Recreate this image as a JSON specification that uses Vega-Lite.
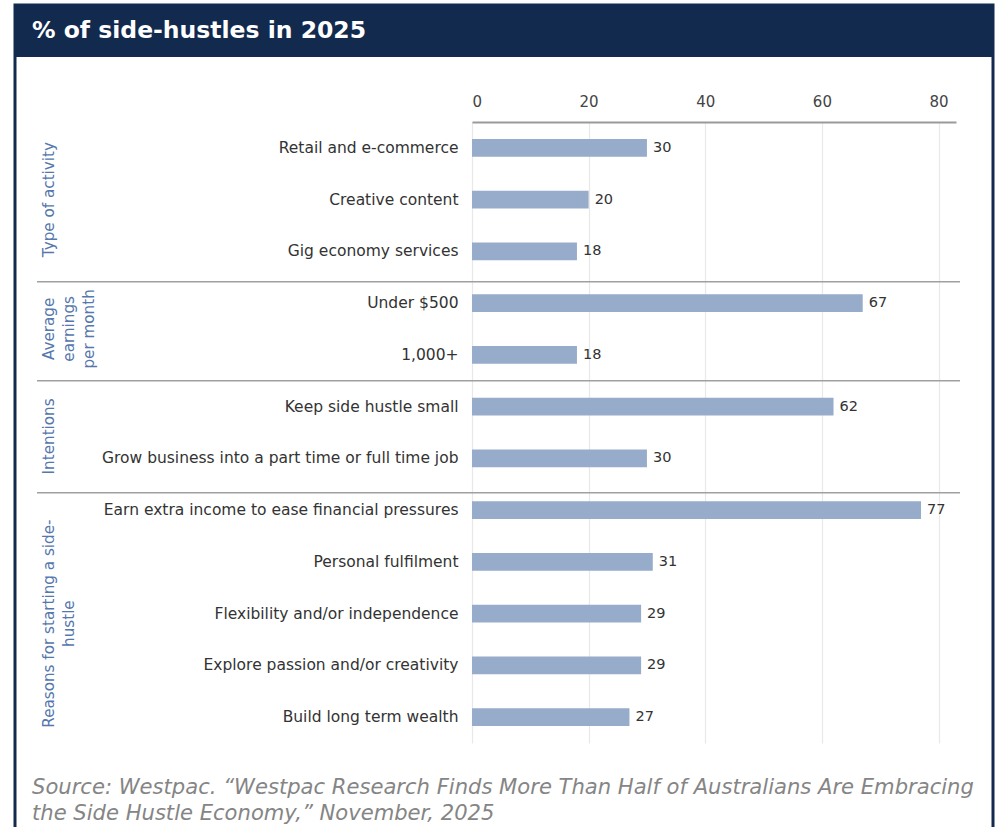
{
  "$schema": "https://vega.github.io/schema/vega-lite/v6.json",
  "autosize": {"type": "none"},
  "padding": {"left": 472, "top": 122, "right": 44, "bottom": 84},
  "width": 484,
  "height": 621,
  "background": "white",
  "config": {
    "view": {"stroke": null},
    "font": "DejaVu Sans",
    "text": {"font": "DejaVu Sans"}
  },
  "datasets": {
    "bars": [
      {"group": "Type of activity", "label": "Retail and e-commerce", "value": 30},
      {"group": "Type of activity", "label": "Creative content", "value": 20},
      {"group": "Type of activity", "label": "Gig economy services", "value": 18},
      {"group": "Average earnings per month", "label": "Under $500", "value": 67},
      {"group": "Average earnings per month", "label": "1,000+", "value": 18},
      {"group": "Intentions", "label": "Keep side hustle small", "value": 62},
      {"group": "Intentions", "label": "Grow business into a part time or full time job", "value": 30},
      {"group": "Reasons for starting a side-hustle", "label": "Earn extra income to ease financial pressures", "value": 77},
      {"group": "Reasons for starting a side-hustle", "label": "Personal fulfilment", "value": 31},
      {"group": "Reasons for starting a side-hustle", "label": "Flexibility and/or independence", "value": 29},
      {"group": "Reasons for starting a side-hustle", "label": "Explore passion and/or creativity", "value": 29},
      {"group": "Reasons for starting a side-hustle", "label": "Build long term wealth", "value": 27}
    ],
    "groups": [
      {"key": "type", "name": ["Type of activity"], "label": "Creative content"},
      {"key": "earn", "name": ["Average", "earnings", "per month"], "label": "1,000+"},
      {"key": "int", "name": ["Intentions"], "label": "Grow business into a part time or full time job"},
      {"key": "reas", "name": ["Reasons for starting a side-", "hustle"], "label": "Flexibility and/or independence"}
    ],
    "separators": [
      {"label": "Under $500"},
      {"label": "Keep side hustle small"},
      {"label": "Earn extra income to ease financial pressures"}
    ],
    "texts": [
      {"kind": "title", "text": ["% of side-hustles in 2025"]},
      {"kind": "source", "text": ["Source: Westpac. “Westpac Research Finds More Than Half of Australians Are Embracing", "the Side Hustle Economy,” November, 2025"]}
    ]
  },
  "layer": [
    {
      "data": {"values": [{}]},
      "mark": {"type": "rect", "fill": "#122a4e", "stroke": null},
      "encoding": {
        "x": {"value": -458}, "x2": {"value": 522},
        "y": {"value": -117}, "y2": {"value": -65}
      }
    },
    {
      "data": {"values": [{}]},
      "mark": {"type": "rect", "fill": null, "fillOpacity": 0, "stroke": "#122a4e", "strokeWidth": 3},
      "encoding": {
        "x": {"value": -457}, "x2": {"value": 521},
        "y": {"value": -117}, "y2": {"value": 730}
      }
    },
    {
      "data": {"name": "bars"},
      "mark": {"type": "bar", "color": "#97abca"},
      "encoding": {
        "y": {
          "field": "label", "type": "nominal", "sort": null,
          "scale": {"paddingInner": 0.66, "paddingOuter": 0.33},
          "axis": {
            "title": null, "domain": false, "ticks": false, "labelPadding": 14,
            "labelFontSize": 15.5, "labelColor": "#333333", "labelFont": "DejaVu Sans",
            "labelLimit": 430, "grid": false
          }
        },
        "x": {
          "field": "value", "type": "quantitative",
          "scale": {"domain": [0, 83], "nice": false},
          "axis": {
            "orient": "top", "title": null, "values": [0, 20, 40, 60, 80],
            "ticks": false, "tickSize": 0, "labelPadding": 13,
            "labelFontSize": 15, "labelColor": "#444444", "labelFont": "DejaVu Sans",
            "domainColor": "#9a9a9a", "domainWidth": 2,
            "grid": true, "gridColor": "#e8e8e8", "gridWidth": 1.2
          }
        }
      }
    },
    {
      "data": {"name": "bars"},
      "mark": {"type": "text", "align": "left", "baseline": "middle", "dx": 6, "fontSize": 14.5, "color": "#333333"},
      "encoding": {
        "y": {"field": "label", "type": "nominal", "sort": null},
        "x": {"field": "value", "type": "quantitative"},
        "text": {"field": "value", "type": "quantitative"}
      }
    },
    {
      "data": {"name": "separators"},
      "transform": [{"filter": "datum.label === 'Under $500'"}],
      "mark": {"type": "rule", "color": "#a0a0a0", "strokeWidth": 1.5, "yOffset": -21.4},
      "encoding": {
        "y": {"field": "label", "type": "nominal", "sort": null},
        "x": {"value": -435}, "x2": {"value": 488}
      }
    },
    {
      "data": {"name": "separators"},
      "transform": [{"filter": "datum.label === 'Keep side hustle small'"}],
      "mark": {"type": "rule", "color": "#a0a0a0", "strokeWidth": 1.5, "yOffset": -26},
      "encoding": {
        "y": {"field": "label", "type": "nominal", "sort": null},
        "x": {"value": -435}, "x2": {"value": 488}
      }
    },
    {
      "data": {"name": "separators"},
      "transform": [{"filter": "datum.label === 'Earn extra income to ease financial pressures'"}],
      "mark": {"type": "rule", "color": "#a0a0a0", "strokeWidth": 1.5, "yOffset": -17.4},
      "encoding": {
        "y": {"field": "label", "type": "nominal", "sort": null},
        "x": {"value": -435}, "x2": {"value": 488}
      }
    },
    {
      "data": {"name": "groups"},
      "transform": [{"filter": "datum.key === 'type'"}],
      "mark": {"type": "text", "angle": 270, "align": "center", "baseline": "top", "fontSize": 15.2, "lineHeight": 20, "color": "#5577ad"},
      "encoding": {
        "y": {"field": "label", "type": "nominal", "sort": null},
        "x": {"value": -430},
        "text": {"field": "name"}
      }
    },
    {
      "data": {"name": "groups"},
      "transform": [{"filter": "datum.key === 'earn'"}],
      "mark": {"type": "text", "angle": 270, "align": "center", "baseline": "top", "fontSize": 15.2, "lineHeight": 20, "color": "#5577ad", "yOffset": -26},
      "encoding": {
        "y": {"field": "label", "type": "nominal", "sort": null},
        "x": {"value": -430},
        "text": {"field": "name"}
      }
    },
    {
      "data": {"name": "groups"},
      "transform": [{"filter": "datum.key === 'int'"}],
      "mark": {"type": "text", "angle": 270, "align": "center", "baseline": "top", "fontSize": 15.2, "lineHeight": 20, "color": "#5577ad", "yOffset": -22},
      "encoding": {
        "y": {"field": "label", "type": "nominal", "sort": null},
        "x": {"value": -430},
        "text": {"field": "name"}
      }
    },
    {
      "data": {"name": "groups"},
      "transform": [{"filter": "datum.key === 'reas'"}],
      "mark": {"type": "text", "angle": 270, "align": "center", "baseline": "top", "fontSize": 15.2, "lineHeight": 20, "color": "#5577ad", "yOffset": 10},
      "encoding": {
        "y": {"field": "label", "type": "nominal", "sort": null},
        "x": {"value": -430},
        "text": {"field": "name"}
      }
    },
    {
      "data": {"name": "texts"},
      "transform": [{"filter": "datum.kind === 'title'"}],
      "mark": {"type": "text", "align": "left", "baseline": "alphabetic", "fontSize": 23.5, "fontWeight": 700, "color": "white"},
      "encoding": {
        "x": {"value": -440}, "y": {"value": -84},
        "text": {"field": "text"}
      }
    },
    {
      "data": {"name": "texts"},
      "transform": [{"filter": "datum.kind === 'source'"}],
      "mark": {"type": "text", "align": "left", "baseline": "alphabetic", "fontSize": 21.1, "fontStyle": "italic", "lineHeight": 26, "color": "#858585"},
      "encoding": {
        "x": {"value": -440}, "y": {"value": 672},
        "text": {"field": "text"}
      }
    }
  ]
}
